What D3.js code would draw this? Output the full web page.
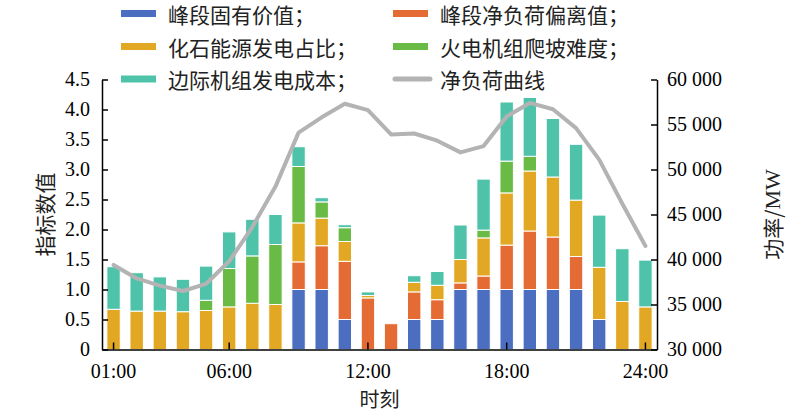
<!DOCTYPE html>
<html><head><meta charset="utf-8">
<script src="https://cdn.jsdelivr.net/npm/d3@7/dist/d3.min.js"></script>
<style>
body{margin:0;background:#fff;}
svg{display:block;}
</style></head>
<body>
<svg id="chart" width="800" height="412"></svg>
<script>
const hours = ["01:00","02:00","03:00","04:00","05:00","06:00","07:00","08:00","09:00","10:00","11:00","12:00",
"13:00","14:00","15:00","16:00","17:00","18:00","19:00","20:00","21:00","22:00","23:00","24:00"];
const peakInherent = [0,0,0,0,0,0,0,0,1.0,1.0,0.5,0,0,0.5,0.5,1.0,1.0,1.0,1.0,1.0,1.0,0.5,0,0];
const peakDeviation = [0,0,0,0,0,0,0,0,0.46,0.73,0.97,0.86,0.43,0.46,0.33,0.11,0.225,0.74,0.975,0.875,0.55,0,0,0];
const fossilShare = [0.67,0.64,0.64,0.63,0.65,0.71,0.77,0.75,0.65,0.46,0.33,0.04,0,0.16,0.24,0.39,0.635,0.87,1.0,1.0,0.94,0.87,0.80,0.71];
const rampDifficulty = [0,0,0,0,0.17,0.64,0.79,1.0,0.94,0.27,0.23,0,0,0,0,0,0.13,0.53,0.245,0,0,0,0,0];
const marginalCost = [0.71,0.64,0.57,0.54,0.57,0.61,0.61,0.50,0.33,0.07,0.05,0.06,0,0.11,0.23,0.575,0.85,0.985,0.98,0.975,0.93,0.87,0.88,0.78];
const netLoad = [39400,37900,37100,36500,37300,39800,43600,48100,54100,55800,57300,56600,
53900,54000,53200,51900,52600,55900,57400,56700,54600,51100,46200,41500];
const xTickLabels = ["01:00","06:00","12:00","18:00","24:00"];
const yLeftTicks = [0,0.5,1.0,1.5,2.0,2.5,3.0,3.5,4.0,4.5];
const yRightTicks = [30000,35000,40000,45000,50000,55000,60000];
const seriesNames = ["峰段固有价值；","峰段净负荷偏离值；","化石能源发电占比；","火电机组爬坡难度；","边际机组发电成本；","净负荷曲线"];
const seriesKeys = ["peakInherent","peakDeviation","fossilShare","rampDifficulty","marginalCost"];
const colors = ["#4b6ec0","#e46b33","#e3a823","#69bb45","#4ec3a9","#b3b3b3"];

const table = hours.map((h,i)=>({hour:h, peakInherent:peakInherent[i], peakDeviation:peakDeviation[i],
  fossilShare:fossilShare[i], rampDifficulty:rampDifficulty[i], marginalCost:marginalCost[i], netLoad:netLoad[i]}));

const svg = d3.select("#chart");
const L=102, R=657, T=79.5, B=349.5;
const numFont = "'Liberation Serif','Times New Roman',serif";
const cjkFont = "'Noto Sans CJK SC','Noto Sans',sans-serif";

const x = d3.scaleBand().domain(hours).range([L,R]).paddingInner(0.42).paddingOuter(0.21);
const y = d3.scaleLinear().domain([0,4.5]).range([B,T]);
const y2 = d3.scaleLinear().domain([30000,60000]).range([B,T]);

const stack = d3.stack().keys(seriesKeys);
const stacked = stack(table);

svg.append("g").selectAll("g").data(stacked).join("g")
  .attr("fill",(d,i)=>colors[i])
  .selectAll("rect").data(d=>d.filter(s=>s[1]-s[0]>0)).join("rect")
  .attr("x",d=>x(d.data.hour))
  .attr("width",x.bandwidth())
  .attr("y",d=>y(d[1]))
  .attr("height",d=>y(d[0])-y(d[1]))
  .attr("stroke","#fff").attr("stroke-width",1);

const line = d3.line().x(d=>x(d.hour)+x.bandwidth()/2).y(d=>y2(d.netLoad));
svg.append("path").datum(table).attr("d",line)
  .attr("fill","none").attr("stroke",colors[5]).attr("stroke-width",4)
  .attr("stroke-linejoin","round").attr("stroke-linecap","round");

// axes
const gx = svg.append("g").attr("transform",`translate(0,${B})`)
  .call(d3.axisBottom(x).tickValues(xTickLabels).tickSizeInner(-7).tickSizeOuter(0).tickPadding(14));
const gy = svg.append("g").attr("transform",`translate(${L},0)`)
  .call(d3.axisLeft(y).tickValues(yLeftTicks).tickSizeInner(-6).tickSizeOuter(0).tickPadding(12)
    .tickFormat(d=>d===0?"0":d3.format(".1f")(d)));
const gy2 = svg.append("g").attr("transform",`translate(${R},0)`)
  .call(d3.axisRight(y2).tickValues(yRightTicks).tickSizeInner(-6).tickSizeOuter(0).tickPadding(10)
    .tickFormat(d=>d3.format(",")(d).replace(/,/g," ")));
[gx,gy,gy2].forEach(g=>{
  g.selectAll("path.domain").attr("stroke","#000").attr("stroke-width",1.5);
  g.selectAll(".tick line").attr("stroke","#000").attr("stroke-width",1.5);
  g.selectAll("text").attr("font-family",numFont).attr("font-size",20).attr("fill","#000");
});
gx.selectAll(".tick text").attr("dy","0.71em");

// axis titles
svg.append("text").attr("transform",`translate(44,${(T+B)/2}) rotate(-90)`)
  .attr("text-anchor","middle").attr("dominant-baseline","central")
  .attr("font-family",cjkFont).attr("font-size",21).attr("fill","#222").text("指标数值");
svg.append("text").attr("transform",`translate(772,${(T+B)/2}) rotate(-90)`)
  .attr("text-anchor","middle").attr("dominant-baseline","central")
  .attr("font-family",cjkFont).attr("font-size",21).attr("fill","#222")
  .call(t=>{t.append("tspan").text("功率/");t.append("tspan").attr("font-family",numFont).attr("font-size",22).text("MW");});
svg.append("text").attr("x",(L+R)/2).attr("y",398)
  .attr("text-anchor","middle").attr("dominant-baseline","central")
  .attr("font-family",cjkFont).attr("font-size",20).attr("fill","#222").text("时刻");

// legend
const legPos = [[121,13.5],[393,13.5],[121,46.5],[393,46.5],[121,79],[393,79]];
const leg = svg.append("g");
seriesNames.forEach((name,i)=>{
  const [lx,ly]=legPos[i];
  if(i<5){
    leg.append("rect").attr("x",lx).attr("y",ly-3.5).attr("width",35).attr("height",7).attr("fill",colors[i]);
  } else {
    leg.append("line").attr("x1",lx+2).attr("x2",lx+37).attr("y1",ly).attr("y2",ly)
      .attr("stroke",colors[i]).attr("stroke-width",5).attr("stroke-linecap","round");
  }
  leg.append("text").attr("x",lx+47).attr("y",ly).attr("dominant-baseline","central")
    .attr("font-family",cjkFont).attr("font-size",21).attr("fill","#222").text(name);
});
</script>
</body></html>
